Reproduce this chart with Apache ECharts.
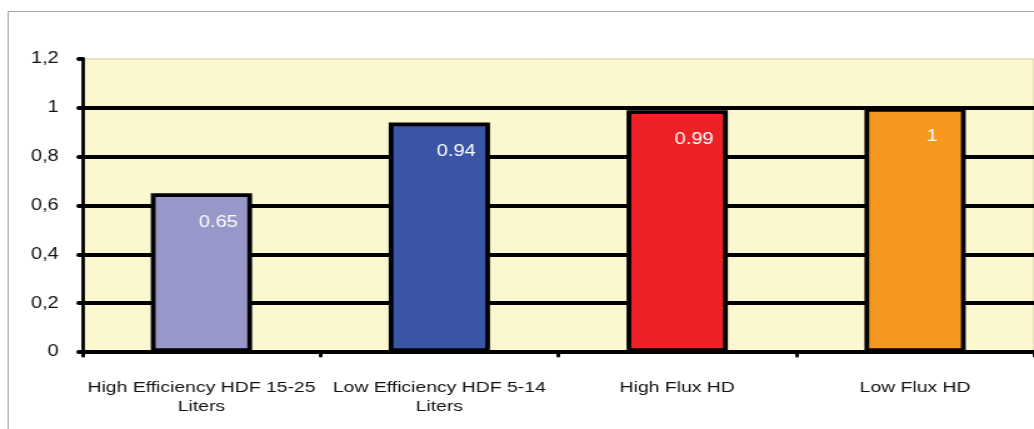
<!DOCTYPE html>
<html>
<head>
<meta charset="utf-8">
<script src="https://cdn.jsdelivr.net/npm/echarts@6/dist/echarts.min.js"></script>
<style>
  html, body { margin: 0; padding: 0; background: #fff; overflow: hidden; }
  /* chart is laid out narrow and stretched horizontally, giving the wide lettering */
  #chart { width: 827px; height: 429px; transform: scaleX(1.2503); transform-origin: 0 0; }
</style>
</head>
<body>
<div id="chart"></div>
<script>
const categories = [
  'High Efficiency HDF 15-25\nLiters',
  'Low Efficiency HDF 5-14\nLiters',
  'High Flux HD',
  'Low Flux HD'
];
const values = [0.65, 0.94, 0.99, 1];
const barColors = ['#9797C9', '#3A55A5', '#EE2226', '#F7971E'];
const yTickLabels = ['0', '0,2', '0,4', '0,6', '0,8', '1', '1,2'];

const FONT = 'Liberation Sans, Arial, sans-serif';

const chart = echarts.init(document.getElementById('chart'), null, { renderer: 'canvas' });

chart.setOption({
  animation: false,
  backgroundColor: '#ffffff',
  graphic: [{
    type: 'rect',
    z: -10,
    silent: true,
    shape: { x: 6.5, y: 11.5, width: 1000, height: 500 },
    style: { fill: 'none', stroke: '#A6A6A6', lineWidth: 1 }
  }],
  grid: {
    left: 66, top: 59, width: 763, bottom: 77,
    show: true,
    backgroundColor: '#FBF8D0',
    borderColor: '#CFC7A2',
    borderWidth: 1
  },
  xAxis: {
    type: 'category',
    data: categories,
    boundaryGap: true,
    axisLine: { show: true, lineStyle: { color: '#000', width: 4 } },
    axisTick: { show: true, length: 4, lineStyle: { color: '#000', width: 3, cap: 'round' } },
    axisLabel: {
      color: '#111', fontFamily: FONT, fontSize: 15.5, lineHeight: 19, margin: 26, interval: 0
    },
    splitLine: { show: false }
  },
  yAxis: {
    type: 'value',
    min: 0, max: 1.2, interval: 0.2,
    axisLine: { show: true, lineStyle: { color: '#000', width: 2.8 } },
    axisTick: { show: true, length: 3, lineStyle: { color: '#000', width: 4, cap: 'round' } },
    axisLabel: {
      color: '#111', fontFamily: FONT, fontSize: 16, margin: 19,
      formatter: (v, i) => yTickLabels[i]
    },
    splitLine: {
      show: true,
      lineStyle: {
        width: 4,
        color: ['#000', '#000', '#000', '#000', '#000', '#000', 'rgba(0,0,0,0)']
      }
    }
  },
  series: [{
    type: 'bar',
    barWidth: 81,
    data: values.map((v, i) => ({ value: v, itemStyle: { color: barColors[i] } })),
    itemStyle: { borderColor: '#000', borderWidth: 3.8 },
    label: {
      show: true,
      position: 'insideTop',
      distance: 21,
      offset: [13.5, 0],
      color: '#fff',
      fontFamily: FONT,
      fontSize: 16,
      formatter: '{c}'
    }
  }]
});
</script>
</body>
</html>
